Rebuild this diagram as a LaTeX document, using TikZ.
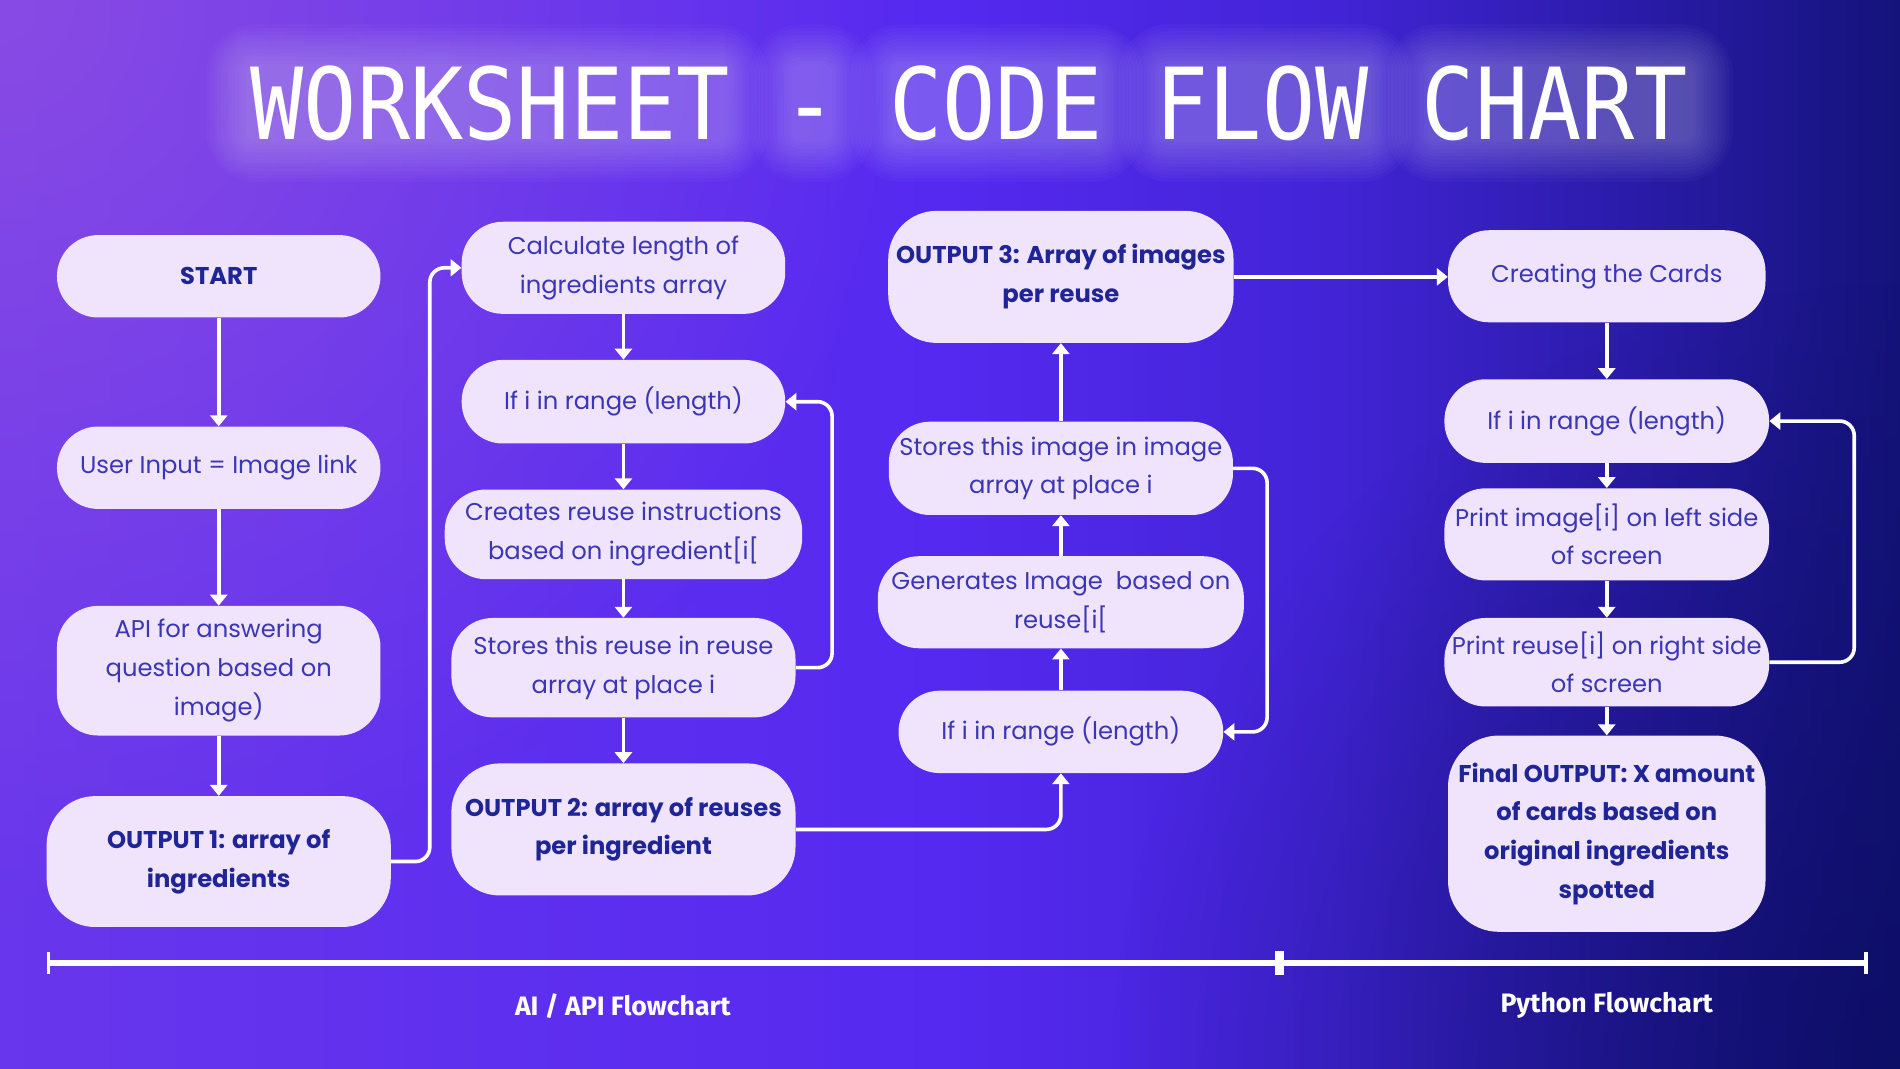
\documentclass[tikz,border=0pt]{standalone}
\usepackage{fontspec}
\setmainfont{Poppins}
\newfontfamily\titlefont{DejaVu Sans Mono}
\newfontfamily\labelfont{Fira Sans}
\usetikzlibrary{arrows.meta,fadings}
\definecolor{boxfill}{HTML}{EFE4FB}
\definecolor{txtc}{HTML}{3B36B5}
\definecolor{boldc}{HTML}{1F2596}
\definecolor{bgA}{HTML}{6836EC}
\definecolor{bgB}{HTML}{5529F0}
\definecolor{bgC}{HTML}{4224D6}
\definecolor{bgD}{HTML}{2A1BA8}
\definecolor{bgE}{HTML}{14137A}
\definecolor{hlc}{HTML}{9452E2}
\definecolor{dkc}{HTML}{0A0C5E}
\pgfdeclarehorizontalshading{bgshade}{100bp}{color(0bp)=(bgA); color(25bp)=(bgA); color(50bp)=(bgB); color(60bp)=(bgC); color(68bp)=(bgD); color(75bp)=(bgE); color(100bp)=(bgE)}
\tikzfading[name=glowfade, inner color=transparent!0, outer color=transparent!100]
\tikzset{
  box/.style={draw=none, fill=boxfill, rounded corners=34pt, align=center, text=txtc,
    font=\fontsize{20}{32}\selectfont, inner sep=0pt},
  boldbox/.style={box, text=boldc, font=\fontsize{20}{32}\selectfont\bfseries},
  conn/.style={draw=white, line width=3pt, -{Triangle[width=14pt,length=9pt]}},
  loopconn/.style={conn, rounded corners=12pt},
  lab/.style={text=white, font=\labelfont\fontsize{22}{26}\selectfont\bfseries},
  titlestyle/.style={text=white, font=\titlefont\fontsize{82}{90}\selectfont},
  glow/.style={fill=white, fill opacity=0.022},
  bar/.style={draw=white, line width=5pt}
}
\begin{document}
\begin{tikzpicture}[x=1pt,y=-1pt]
\useasboundingbox (0,0) rectangle (1568,882);
% background
\shade[shading=bgshade] (0,0) rectangle (1568,882);
\begin{scope}
  \clip (0,0) rectangle (1568,882);
  \fill[hlc, fill opacity=0.75, path fading=glowfade] (0,0) circle (760);
  \fill[dkc, fill opacity=0.7, path fading=glowfade] (1568,882) circle (650);
\end{scope}
% title glow
\foreach \a/\b in {205/598, 655/685, 737/908, 958/1130, 1180/1395}{
  \foreach \e in {2,5,...,35}{
    \fill[glow, rounded corners=\e pt+6pt] (\a-\e,55-\e) rectangle (\b+\e,115+\e);
  }
}
\node[titlestyle] (title) at (800,85) {\scalebox{0.89}[1]{WORKSHEET - CODE FLOW CHART}};
% column 1
\node[boldbox, minimum width=267pt, minimum height=68pt] (start) at (180.5,228) {START};
\node[box, minimum width=267pt, minimum height=68pt] (user) at (180.5,386) {User Input = Image link};
\node[box, minimum width=267pt, minimum height=107pt] (api) at (180.5,553.5) {API for answering\\question based on\\image)};
\node[boldbox, minimum width=284pt, minimum height=108pt, rounded corners=40pt] (out1) at (180.5,711) {OUTPUT 1: array of\\ingredients};
% column 2
\node[box, minimum width=267pt, minimum height=76pt] (calc) at (514.5,221) {Calculate length of\\ingredients array};
\node[box, minimum width=267pt, minimum height=69pt] (if1) at (514.5,331.5) {If i in range (length)};
\node[box, minimum width=295pt, minimum height=74pt] (creates) at (514.5,441) {Creates reuse instructions\\based on ingredient[i[};
\node[box, minimum width=284pt, minimum height=82pt] (storer) at (514.5,551) {Stores this reuse in reuse\\array at place i};
\node[boldbox, minimum width=284pt, minimum height=109pt, rounded corners=40pt] (out2) at (514.5,684.5) {OUTPUT 2: array of reuses\\per ingredient};
% column 3
\node[boldbox, minimum width=285pt, minimum height=109pt, rounded corners=40pt] (out3) at (875.5,228.5) {OUTPUT 3: Array of images\\per reuse};
\node[box, minimum width=284pt, minimum height=77pt] (storei) at (875.5,386.5) {Stores this image in image\\array at place i};
\node[box, minimum width=302pt, minimum height=76pt] (gen) at (875.5,497) {Generates Image\ \ based on\\reuse[i[};
\node[box, minimum width=268pt, minimum height=68pt] (if2) at (875.5,604) {If i in range (length)};
% column 4
\node[box, minimum width=262pt, minimum height=76pt] (cards) at (1326,228) {Creating the Cards};
\node[box, minimum width=268pt, minimum height=69pt] (if3) at (1326,347.5) {If i in range (length)};
\node[box, minimum width=268pt, minimum height=76pt] (pimg) at (1326,441) {Print image[i] on left side\\of screen};
\node[box, minimum width=268pt, minimum height=73pt] (preu) at (1326,546.5) {Print reuse[i] on right side\\of screen};
\node[boldbox, minimum width=262pt, minimum height=162pt, rounded corners=42pt] (final) at (1326,688) {Final OUTPUT: X amount\\of cards based on\\original ingredients\\spotted};
% connectors column 1
\draw[conn] (start) -- (user);
\draw[conn] (user) -- (api);
\draw[conn] (api) -- (out1);
\draw[loopconn] (out1.east) -- ++(32,0) |- (calc.west);
% column 2
\draw[conn] (calc) -- (if1);
\draw[conn] (if1) -- (creates);
\draw[conn] (creates) -- (storer);
\draw[conn] (storer) -- (out2);
\draw[loopconn] (storer.east) -- ++(30,0) |- (if1.east);
\draw[loopconn] (out2.east) -| (if2.south);
% column 3
\draw[conn] (if2) -- (gen);
\draw[conn] (gen) -- (storei);
\draw[conn] (storei) -- (out3);
\draw[loopconn] (storei.east) -- ++(28,0) |- (if2.east);
\draw[conn] (out3.east) -- (out3.east -| cards.west);
% column 4
\draw[conn] (cards) -- (if3);
\draw[conn] (if3) -- (pimg);
\draw[conn] (pimg) -- (preu);
\draw[conn] (preu) -- (final);
\draw[loopconn] (preu.east) -- ++(70,0) |- (if3.east);
% timeline
\coordinate (tl) at (40,795);
\coordinate (tm) at (1056,795);
\coordinate (tr) at (1540,795);
\draw[bar] (tl) -- (tr);
\draw[white, line width=3pt] ([yshift=-9pt]tl) -- ([yshift=9pt]tl);
\draw[white, line width=7pt] ([yshift=-10pt]tm) -- ([yshift=10pt]tm);
\draw[white, line width=3pt] ([yshift=-9pt]tr) -- ([yshift=9pt]tr);
\node[lab] (lab1) at (514,830) {AI / API Flowchart};
\node[lab] (lab2) at (1326,830) {Python Flowchart};
\end{tikzpicture}
\end{document}
